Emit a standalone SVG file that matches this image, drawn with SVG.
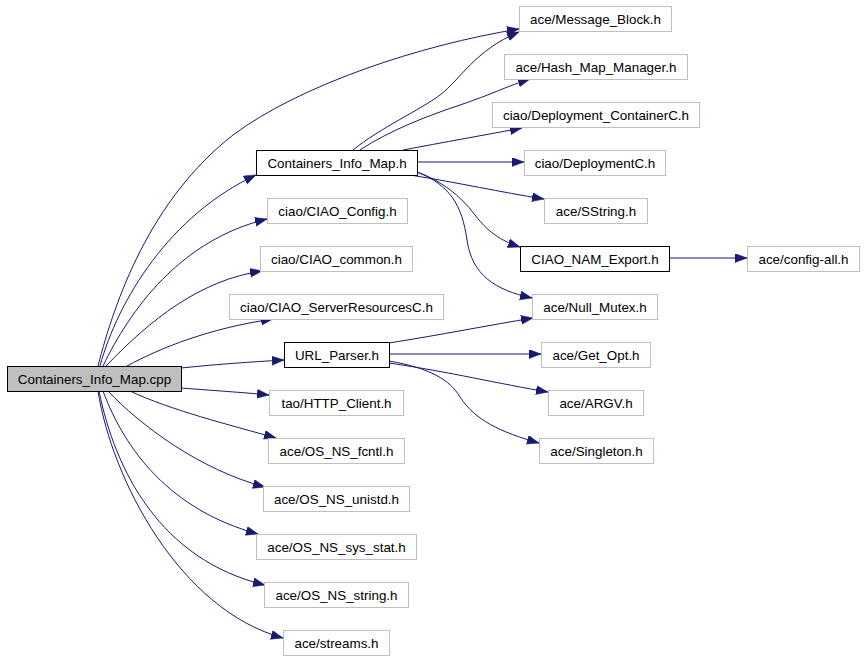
<svg xmlns="http://www.w3.org/2000/svg" width="864" height="659" viewBox="0 0 864 659">
<style>
.n rect{fill:#ffffff;stroke:#bfbfbf;stroke-width:1}
.n.b rect{stroke:#000000}
.n.c rect{fill:#bfbfbf;stroke:#000000}
.n text{font-family:"Liberation Sans",Arial,sans-serif;font-size:13.4px;fill:#000000;text-anchor:middle}
.e path{fill:none;stroke:#191970;stroke-width:1;marker-end:url(#ah)}
</style>
<defs>
<marker id="ah" markerUnits="userSpaceOnUse" markerWidth="14" markerHeight="11" refX="12" refY="4.5" orient="auto">
<path d="M0,0 L12,4.5 L0,9 z" fill="#191970" stroke="#191970" stroke-width="0.5"/>
</marker>
</defs>
<rect x="0" y="0" width="864" height="659" fill="#ffffff"/>
<g id="edges" class="e">
<path d="M98,366 C115,300 150,200 233,135 C300,85 420,45 519,29"/>
<path d="M100,366 C118,300 170,215 256,175"/>
<path d="M103,366 C130,310 180,240 267,219"/>
<path d="M106,366 C150,320 200,280 262,271"/>
<path d="M127,366 C160,348 210,328 273,319"/>
<path d="M181,368 C220,364 250,362 284,360"/>
<path d="M181,388 C220,391 250,393 269,395"/>
<path d="M130,391 C170,410 230,425 276,438"/>
<path d="M108,391 C140,425 200,470 265,487"/>
<path d="M103,391 C125,450 170,510 258,534"/>
<path d="M99,391 C115,470 160,560 265,585"/>
<path d="M98,391 C112,480 180,610 283,638"/>
<path d="M353,150 C380,128 420,110 440,95 C460,80 475,50 519,32"/>
<path d="M360,150 C390,130 430,115 460,105 C490,95 510,85 530,79"/>
<path d="M403,150 C440,143 490,134 522,128"/>
<path d="M417,162 L524,162"/>
<path d="M410,175 C460,183 500,192 544,199"/>
<path d="M417,172 C440,180 460,195 475,215 C490,235 505,242 520,247"/>
<path d="M417,172 C450,185 462,205 467,240 C472,275 495,290 532,298"/>
<path d="M669,258 L747,258"/>
<path d="M389,343 C440,335 490,325 533,318"/>
<path d="M389,354 L541,354"/>
<path d="M389,363 C450,372 500,384 548,392"/>
<path d="M389,361 C430,368 450,380 460,397 C475,420 500,432 539,443"/>
</g>
<g id="node_cpp" class="n c"><rect x="7.5" y="366.5" width="174" height="25"/><text x="94.5" y="383.5">Containers_Info_Map.cpp</text></g>
<g id="node_cim_h" class="n b"><rect x="256.5" y="150.5" width="161" height="25"/><text x="337" y="167.5">Containers_Info_Map.h</text></g>
<g id="node_ciao_config" class="n"><rect x="267.5" y="198.5" width="140" height="25"/><text x="337.5" y="215.5">ciao/CIAO_Config.h</text></g>
<g id="node_ciao_common" class="n"><rect x="260.5" y="246.5" width="152" height="25"/><text x="336.5" y="263.5">ciao/CIAO_common.h</text></g>
<g id="node_ciao_srv" class="n"><rect x="229.5" y="294.5" width="214" height="25"/><text x="336.5" y="311.5">ciao/CIAO_ServerResourcesC.h</text></g>
<g id="node_url" class="n b"><rect x="284.5" y="342.5" width="105" height="25"/><text x="337" y="359.5">URL_Parser.h</text></g>
<g id="node_http" class="n"><rect x="269.5" y="390.5" width="134" height="25"/><text x="336.5" y="407.5">tao/HTTP_Client.h</text></g>
<g id="node_fcntl" class="n"><rect x="268.5" y="438.5" width="136" height="25"/><text x="336.5" y="455.5">ace/OS_NS_fcntl.h</text></g>
<g id="node_unistd" class="n"><rect x="263.5" y="486.5" width="146" height="25"/><text x="336.5" y="503.5">ace/OS_NS_unistd.h</text></g>
<g id="node_sysstat" class="n"><rect x="256.5" y="534.5" width="160" height="25"/><text x="336.5" y="551.5">ace/OS_NS_sys_stat.h</text></g>
<g id="node_string" class="n"><rect x="264.5" y="582.5" width="144" height="25"/><text x="336.5" y="599.5">ace/OS_NS_string.h</text></g>
<g id="node_streams" class="n"><rect x="283.5" y="630.5" width="106" height="25"/><text x="336.5" y="647.5">ace/streams.h</text></g>
<g id="node_msgblock" class="n"><rect x="519.5" y="6.5" width="152" height="25"/><text x="595.5" y="23.5">ace/Message_Block.h</text></g>
<g id="node_hashmap" class="n"><rect x="504.5" y="54.5" width="183" height="25"/><text x="596" y="71.5">ace/Hash_Map_Manager.h</text></g>
<g id="node_depcont" class="n"><rect x="492.5" y="102.5" width="207" height="25"/><text x="596" y="119.5">ciao/Deployment_ContainerC.h</text></g>
<g id="node_depc" class="n"><rect x="524.5" y="150.5" width="141" height="25"/><text x="595" y="167.5">ciao/DeploymentC.h</text></g>
<g id="node_sstring" class="n"><rect x="544.5" y="198.5" width="103" height="25"/><text x="596" y="215.5">ace/SString.h</text></g>
<g id="node_nam" class="n b"><rect x="520.5" y="246.5" width="149" height="25"/><text x="595" y="263.5">CIAO_NAM_Export.h</text></g>
<g id="node_configall" class="n"><rect x="747.5" y="246.5" width="112" height="25"/><text x="803.5" y="263.5">ace/config-all.h</text></g>
<g id="node_nullmutex" class="n"><rect x="532.5" y="294.5" width="125" height="25"/><text x="595" y="311.5">ace/Null_Mutex.h</text></g>
<g id="node_getopt" class="n"><rect x="541.5" y="342.5" width="109" height="25"/><text x="596" y="359.5">ace/Get_Opt.h</text></g>
<g id="node_argv" class="n"><rect x="548.5" y="390.5" width="95" height="25"/><text x="596" y="407.5">ace/ARGV.h</text></g>
<g id="node_singleton" class="n"><rect x="539.5" y="438.5" width="114" height="25"/><text x="596.5" y="455.5">ace/Singleton.h</text></g>
</svg>
